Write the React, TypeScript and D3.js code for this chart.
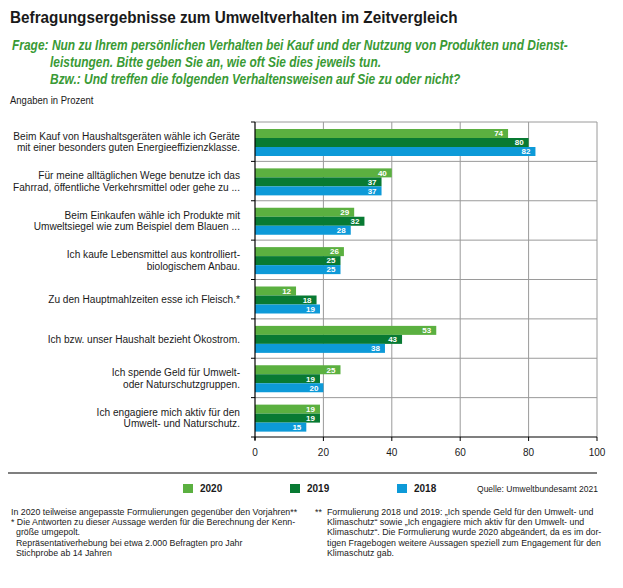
import React from "react";
import * as d3 from "d3";

const categories = [
  ["Beim Kauf von Haushaltsgeräten wähle ich Geräte", "mit einer besonders guten Energieeffizienzklasse."],
  ["Für meine alltäglichen Wege benutze ich das", "Fahrrad, öffentliche Verkehrsmittel oder gehe zu ..."],
  ["Beim Einkaufen wähle ich Produkte mit", "Umweltsiegel wie zum Beispiel dem Blauen ..."],
  ["Ich kaufe Lebensmittel aus kontrolliert-", "biologischem Anbau."],
  ["Zu den Hauptmahlzeiten esse ich Fleisch.*"],
  ["Ich bzw. unser Haushalt bezieht Ökostrom."],
  ["Ich spende Geld für Umwelt-", "oder Naturschutzgruppen."],
  ["Ich engagiere mich aktiv für den", "Umwelt- und Naturschutz."],
];

const years = ["2020", "2019", "2018"];
const values2020 = [74, 40, 29, 26, 12, 53, 25, 19];
const values2019 = [80, 37, 32, 25, 18, 43, 19, 19];
const values2018 = [82, 37, 28, 25, 19, 38, 20, 15];
const xTicks = [0, 20, 40, 60, 80, 100];

const colors: Record<string, string> = { "2020": "#5bb040", "2019": "#087a33", "2018": "#0d9ad8" };
const seriesValues: Record<string, number[]> = { "2020": values2020, "2019": values2019, "2018": values2018 };

const footLeft = [
  "In 2020 teilweise angepasste Formulierungen gegenüber den Vorjahren**",
  "* Die Antworten zu dieser Aussage werden für die Berechnung der Kenn-",
  "größe umgepolt.",
  "Repräsentativerhebung bei etwa 2.000 Befragten pro Jahr",
  "Stichprobe ab 14 Jahren",
];
const footRight = [
  "Formulierung 2018 und 2019: „Ich spende Geld für den Umwelt- und",
  "Klimaschutz“ sowie „Ich engagiere mich aktiv für den Umwelt- und",
  "Klimaschutz“. Die Formulierung wurde 2020 abgeändert, da es im dor-",
  "tigen Fragebogen weitere Aussagen speziell zum Engagement für den",
  "Klimaschutz gab.",
];

const FONT = "'Liberation Sans', Arial, sans-serif";
const GREEN = "#3a9a35";

export default function App() {
  const x = d3.scaleLinear().domain([0, 100]).range([255, 597]);
  const idx = categories.map((_, i) => String(i));
  const y = d3.scaleBand().domain(idx).range([122, 437]);
  const yInner = d3.scaleBand().domain(years).range([7, 34]);
  const bw = y.bandwidth();

  return (
    <svg width={623} height={588} style={{ position: "absolute", left: 0, top: 0, background: "#fff" }} fontFamily={FONT}>
      <rect width={623} height={588} fill="#fff" />
      <g transform="translate(10,23) scale(0.9,1)">
        <text x={0} y={0} fontSize={17} fontWeight="bold" fill="#1a1a1a">
          Befragungsergebnisse zum Umweltverhalten im Zeitvergleich
        </text>
      </g>
      <g fill={GREEN} fontSize={14} fontStyle="italic" fontWeight="bold">
        <g transform="translate(12,50) scale(0.855,1)">
          <text x={0} y={0}>Frage: Nun zu Ihrem persönlichen Verhalten bei Kauf und der Nutzung von Produkten und Dienst-</text>
        </g>
        <g transform="translate(50,67) scale(0.855,1)">
          <text x={0} y={0}>leistungen. Bitte geben Sie an, wie oft Sie dies jeweils tun.</text>
        </g>
        <g transform="translate(50,84) scale(0.855,1)">
          <text x={0} y={0}>Bzw.: Und treffen die folgenden Verhaltensweisen auf Sie zu oder nicht?</text>
        </g>
      </g>
      <g transform="translate(10,104) scale(0.95,1)">
        <text x={0} y={0} fontSize={10} fill="#1a1a1a">Angaben in Prozent</text>
      </g>

      {/* vertical grid */}
      {xTicks.filter((t) => t > 0).map((t) => (
        <line key={"vg" + t} x1={x(t)} x2={x(t)} y1={122} y2={437} stroke="#9a9a9a" strokeWidth={1} />
      ))}
      {/* horizontal separators */}
      {idx.map((k) => (
        <g key={"hs" + k}>
          <line x1={x(0)} x2={x(100)} y1={y(k)!} y2={y(k)!} stroke="#9a9a9a" strokeWidth={1} />
          <line x1={251} x2={x(0)} y1={y(k)!} y2={y(k)!} stroke="#000" strokeWidth={1} />
        </g>
      ))}

      {/* bars */}
      {idx.map((k, i) => (
        <g key={"b" + k} transform={`translate(0,${y(k)})`}>
          {years.map((yr) => {
            const v = seriesValues[yr][i];
            const by = yInner(yr)!;
            const bh = yInner.bandwidth();
            return (
              <g key={yr}>
                <rect x={x(0)} y={by} width={x(v) - x(0)} height={bh} fill={colors[yr]} />
                <text x={x(v) - 5} y={by + bh / 2} dy="0.35em" textAnchor="end" fontSize={8} fontWeight="bold" fill="#fff">
                  {v}
                </text>
              </g>
            );
          })}
        </g>
      ))}

      {/* category labels */}
      {categories.map((lines, i) => {
        const cy = y(String(i))! + bw / 2;
        const lh = 11.5;
        return (
          <g key={"cl" + i} transform={`translate(240,0) scale(0.88,1)`}>
            <text x={0} textAnchor="end" fontSize={11.5} fill="#1a1a1a">
              {lines.map((ln, j) => (
                <tspan key={j} x={0} y={cy + (j - (lines.length - 1) / 2) * lh} dy="0.35em">
                  {ln}
                </tspan>
              ))}
            </text>
          </g>
        );
      })}

      {/* axes */}
      <line x1={x(0)} x2={x(0)} y1={122} y2={440} stroke="#000" strokeWidth={1.2} />
      <line x1={251} x2={x(100)} y1={437} y2={437} stroke="#000" strokeWidth={1.2} />
      {xTicks.map((t) => (
        <g key={"xt" + t}>
          <line x1={x(t)} x2={x(t)} y1={437} y2={441} stroke="#000" strokeWidth={1} />
          <text x={x(t)} y={456} textAnchor="middle" fontSize={10} fill="#1a1a1a">{t}</text>
        </g>
      ))}

      <line x1={8} x2={597} y1={473} y2={473} stroke="#000" strokeWidth={1.2} />

      {/* legend */}
      {years.map((yr, i) => (
        <g key={"lg" + yr} transform={`translate(${183 + i * 107},484)`}>
          <rect width={10} height={9} fill={colors[yr]} />
          <text x={17} y={8} fontSize={10} fontWeight="bold" fill="#1a1a1a">{yr}</text>
        </g>
      ))}
      <text x={598} y={492} textAnchor="end" fontSize={8.5} fill="#1a1a1a">Quelle: Umweltbundesamt 2021</text>

      {/* footnotes */}
      <g fontSize={8.8} fill="#1a1a1a">
        {footLeft.map((ln, i) => (
          <text key={"fl" + i} x={i <= 1 ? 11 : 16} y={515 + i * 10.2}>{ln}</text>
        ))}
        <text x={315} y={515}>**</text>
        {footRight.map((ln, i) => (
          <text key={"fr" + i} x={327} y={515 + i * 10.2}>{ln}</text>
        ))}
      </g>
    </svg>
  );
}
